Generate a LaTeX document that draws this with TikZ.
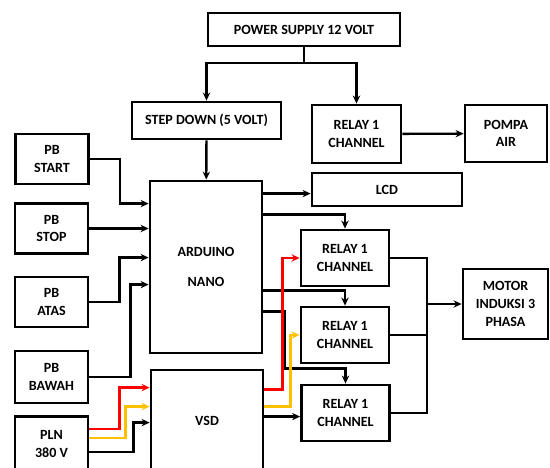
\documentclass[tikz,border=0pt]{standalone}
\usepackage{fontspec}
\setmainfont{Carlito}
\usepackage{tikz}
\usetikzlibrary{arrows.meta,positioning,calc}
\definecolor{WireRed}{HTML}{FF0000}
\definecolor{WireYellow}{HTML}{FFC000}
\definecolor{WireBlack}{HTML}{000000}
\tikzset{
    % Base node style
    basenode/.style={
        draw=WireBlack,
        fill=white,
        line width=2.4pt,
        inner sep=0pt,
        align=center,
        font=\fontsize{12}{15}\selectfont\bfseries
    },
    % Push button / input box
    pbnode/.style={
        basenode,
        minimum width=2.19cm,
        minimum height=1.5cm
    },
    % Relay box
    relaynode/.style={
        basenode,
        minimum width=2.64cm,
        minimum height=1.68cm
    },
    % Arrow styles (straight lines only)
    myarrow/.style={
        -{Stealth[length=2.4mm,width=2.2mm]},
        line width=2pt,
        draw=WireBlack
    },
    % Plain wire
    myline/.style={
        line width=2pt,
        draw=WireBlack
    },
    % Phase wires
    redarrow/.style={
        myarrow,
        draw=WireRed
    },
    yellowarrow/.style={
        myarrow,
        draw=WireYellow
    }
}
\begin{document}
\begin{tikzpicture}[x=0.03cm,y=-0.03cm]
                \useasboundingbox (0,0) rectangle (550,468);
                \clip (0,0) rectangle (550,468);

                % Power part
                \node[basenode,minimum width=5.76cm,minimum height=0.99cm] (ps) at (304,29.5) {POWER SUPPLY 12 VOLT};
                \node[basenode,minimum width=4.47cm,minimum height=1.11cm] (stepdown) at (206.5,120.5) {STEP DOWN (5 VOLT)};
                \node[relaynode,minimum width=2.67cm,minimum height=1.74cm] (relay0) at (356.5,134) {RELAY 1\\CHANNEL};
                \node[basenode,minimum width=2.46cm,minimum height=1.71cm] (pompa) at (506,133.5) {POMPA\\AIR};

                % Inputs
                \node[pbnode] (start) at (52,159) {PB\\START};
                \node[pbnode] (stop) at (51.5,228.5) {PB\\STOP};
                \node[pbnode] (atas) at (51.5,302) {PB\\ATAS};
                \node[pbnode,minimum height=1.56cm] (bawah) at (51.5,377) {PB\\BAWAH};
                \node[pbnode,minimum height=1.65cm] (pln) at (51.5,444) {PLN\\380 V};

                % Controllers
                \node[basenode,minimum width=3.36cm,minimum height=5.16cm] (arduino) at (206,267) {ARDUINO\\[10pt]NANO};
                \node[basenode,minimum width=3.36cm,minimum height=3.06cm] (vsd) at (207,421) {VSD};

                % Outputs
                \node[basenode,minimum width=4.5cm,minimum height=0.99cm] (lcd) at (387,189.5) {LCD};
                \node[relaynode] (relA) at (345,258) {RELAY 1\\CHANNEL};
                \node[relaynode] (relB) at (345,335) {RELAY 1\\CHANNEL};
                \node[relaynode] (relC) at (345.5,413) {RELAY 1\\CHANNEL};
                \node[basenode,minimum width=2.55cm,minimum height=2.1cm] (motor) at (505.5,304) {MOTOR\\INDUKSI 3\\PHASA};

                % Power arrows
                \coordinate (cab) at (304,63);
                \draw[myline] (ps.south) -- (cab);
                \draw[myarrow] (cab) -| (stepdown.north);
                \draw[myarrow] (cab) -| (relay0.north);
                \draw[myarrow] (relay0) -- (pompa);
                \draw[myarrow] (stepdown) -- (arduino);

                % Inputs to arduino
                \draw[myarrow] (start.east) -- ++(30,0) |- ($(arduino.north west)+(0,24)$);
                \draw[myarrow] (stop.east) -- (stop.east -| arduino.west);
                \draw[myarrow] (atas.east) -- ++(30,0) |- ($(arduino.north west)+(0,78)$);
                \draw[myarrow] (bawah.east) -- ++(41,0) |- ($(arduino.north west)+(0,105)$);

                % PLN to VSD
                \draw[redarrow] ($(pln.east)+(0,-15)$) -- ++(30,0) |- ($(vsd.north west)+(0,19)$);
                \draw[yellowarrow] ($(pln.east)+(0,-6)$) -- ++(36,0) |- ($(vsd.north west)+(0,38)$);
                \draw[myarrow] ($(pln.east)+(0,8)$) -- ++(44,0) |- ($(vsd.north west)+(0,54)$);

                % Arduino to outputs
                \coordinate (a1) at ($(arduino.north east)+(0,14)$);
                \draw[myarrow] (a1) -- (a1 -| lcd.west);
                \draw[myarrow] ($(arduino.north east)+(0,35)$) -| (relA.north);
                \draw[myarrow] ($(arduino.north east)+(0,111)$) -| (relB.north);
                \draw[myarrow] ($(arduino.north east)+(0,132)$) -- ++(21,0) -- ++(0,57) -| (relC.north);

                % VSD to relays
                \draw[redarrow] ($(vsd.north east)+(0,21)$) -- ++(18,0) |- (relA.west);
                \draw[yellowarrow] ($(vsd.north east)+(0,38)$) -- ++(26,0) |- (relB.west);
                \coordinate (v3) at ($(vsd.north east)+(0,48)$);
                \draw[myarrow] (v3) -- (v3 -| relC.west);

                % Relays to motor
                \coordinate (bus) at (427,0);
                \draw[myline] (relA.east) -| (bus |- relC.east) -- (relC.east);
                \draw[myline] (relB.east) -- (relB.east -| bus);
                \draw[myarrow] (motor.west -| bus) -- (motor.west);
            \end{tikzpicture}
\end{document}
